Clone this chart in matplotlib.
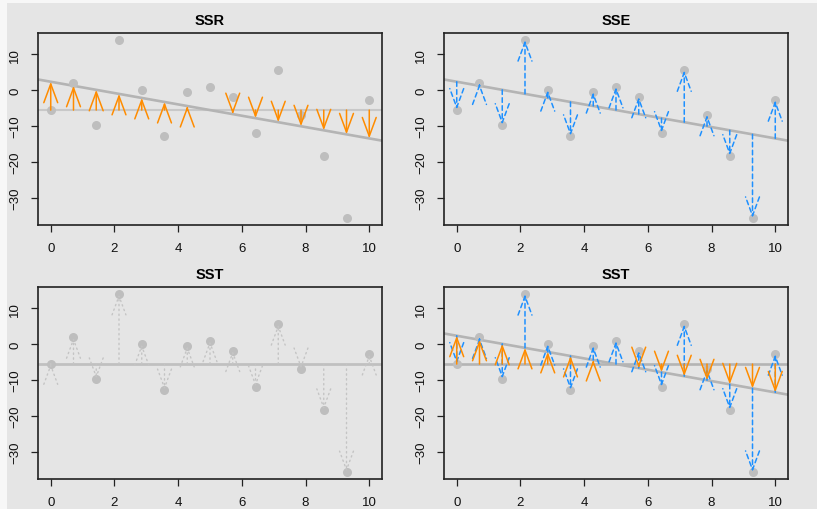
import numpy as np
import matplotlib
matplotlib.use("Agg")
import matplotlib.pyplot as plt
from matplotlib.patches import FancyArrowPatch, Rectangle, ArrowStyle

plt.rcParams['font.family'] = ['Liberation Sans', 'DejaVu Sans']

# data
x = np.linspace(0, 10, 15)
y = np.array([-5.4, 1.85, -9.6, 13.9, 0.0, -12.7, -0.55, 0.9,
              -1.85, -11.8, 5.5, -6.85, -18.2, -35.5, -2.8])
titles = ["SSR", "SSE", "SST", "SST"]
xticks = [0, 2, 4, 6, 8, 10]
yticks = [-30, -20, -10, 0, 10]

# fit + mean
slope, icpt = np.polyfit(x, y, 1)
yhat = icpt + slope * x
ybar = y.mean()

BG = "#e5e5e5"
PT = "#bebebe"
REG = "#b4b4b4"
MEAN = "#c8c8c8"
ORANGE = "#ff8c00"
BLUE = "#1e90ff"

W, H = 817, 510
fig = plt.figure(figsize=(W / 100, H / 100), dpi=100, facecolor="#f7f7f7")
fig.patches.append(Rectangle((7 / W, 0), 1, 1 - 4 / H, transform=fig.transFigure,
                             facecolor=BG, edgecolor="none", zorder=-10))

# axes boxes in pixels: left, top, right, bottom
boxes = [(38, 34, 382, 226), (444, 34, 788, 226),
         (38, 288, 382, 480), (444, 288, 788, 480)]

head = ArrowStyle("->", head_length=13.5, head_width=5.0)


def arrows(ax, y0, y1, color, ls, lw=1.1):
    for xi, a, b in zip(x, y0, y1):
        p = FancyArrowPatch((xi, a), (xi, b), arrowstyle=head, mutation_scale=1,
                            shrinkA=0, shrinkB=0, color=color, lw=lw,
                            linestyle=ls, zorder=5)
        ax.add_patch(p)


axes = []
for (l, t, r, b), title in zip(boxes, titles):
    ax = fig.add_axes([l / W, 1 - b / H, (r - l) / W, (b - t) / H])
    ax.set_facecolor(BG)
    ax.set_xlim(-0.4, 10.4)
    rng = y.max() - y.min()
    ax.set_ylim(y.min() - 0.04 * rng, y.max() + 0.04 * rng)
    ax.set_xticks(xticks)
    ax.set_yticks(yticks)
    ax.tick_params(length=5, width=0.9, color="#222222", labelsize=9.5,
                   labelcolor="#111111", pad=7)
    ax.tick_params(axis="y", labelrotation=90)
    for lab in ax.get_yticklabels():
        lab.set_verticalalignment("center")
    for s in ax.spines.values():
        s.set_linewidth(1.2)
        s.set_color("#222222")
    ax.set_title(title, fontweight="bold", fontsize=10.5, pad=6.5)
    axes.append(ax)

xl = np.array([-0.4, 10.4])

# SSR
ax = axes[0]
ax.axhline(ybar, color=MEAN, lw=1.5, zorder=2)
ax.plot(xl, icpt + slope * xl, color=REG, lw=1.9, zorder=2)
ax.plot(x, y, "o", color=PT, ms=6.5, mec="none", zorder=3)
arrows(ax, np.full_like(x, ybar), yhat, ORANGE, "-")

# SSE
ax = axes[1]
ax.plot(xl, icpt + slope * xl, color=REG, lw=1.9, zorder=2)
ax.plot(x, y, "o", color=PT, ms=6.5, mec="none", zorder=3)
arrows(ax, yhat, y, BLUE, (0, (3, 2.2)))

# SST
ax = axes[2]
ax.axhline(ybar, color="#c0c0c0", lw=2.0, zorder=2)
ax.plot(x, y, "o", color=PT, ms=6.5, mec="none", zorder=3)
arrows(ax, np.full_like(x, ybar), y, "#c4c4c4", (0, (1, 2.5)), lw=1.0)

# SST = SSR + SSE
ax = axes[3]
ax.axhline(ybar, color=REG, lw=1.9, zorder=2)
ax.plot(xl, icpt + slope * xl, color=REG, lw=1.9, zorder=2)
ax.plot(x, y, "o", color=PT, ms=6.5, mec="none", zorder=3)
arrows(ax, yhat, y, BLUE, (0, (3, 2.2)))
arrows(ax, np.full_like(x, ybar), yhat, ORANGE, "-")

fig.savefig("out.png", dpi=100, facecolor=fig.get_facecolor())
